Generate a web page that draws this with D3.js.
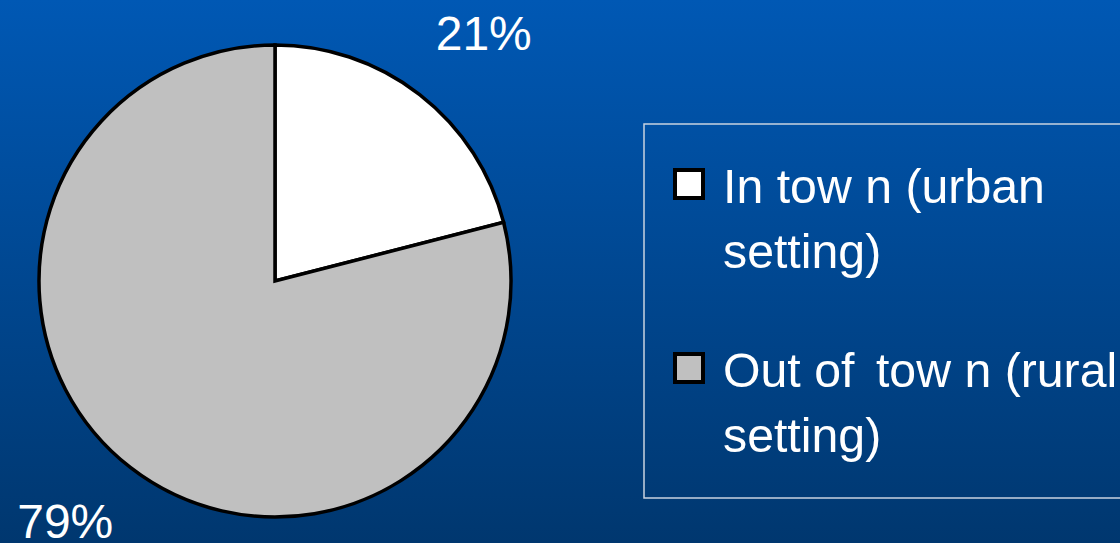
<!DOCTYPE html>
<html>
<head>
<meta charset="utf-8">
<script src="https://cdn.jsdelivr.net/npm/d3@7"></script>
<style>
  html, body { margin: 0; padding: 0; background: #00468f; }
  svg { display: block; }
  text { font-family: "Liberation Sans", Arial, sans-serif; fill: #ffffff; white-space: pre; }
</style>
</head>
<body>
<svg id="chart" width="1120" height="543"></svg>
<script>
// Share of locations by setting
const categories = ["In town (urban setting)", "Out of town (rural setting)"];
const values = [21, 79];
const valueLabels = ["21%", "79%"];
// Legend wording, one array entry per wrapped line
const legendLines = [["In tow n (urban", "setting)"], ["Out of \u200A\u200Atow n (rural", "setting)"]];
const sliceColors = ["#ffffff", "#c0c0c0"];

const W = 1120, H = 543;
const svg = d3.select("#chart");

// Background gradient: bright blue at the top fading to navy at the bottom
const defs = svg.append("defs");
const grad = defs.append("linearGradient")
  .attr("id", "bg").attr("x1", 0).attr("y1", 0).attr("x2", 0).attr("y2", 1);
grad.append("stop").attr("offset", "0%").attr("stop-color", "#0058b4");
grad.append("stop").attr("offset", "100%").attr("stop-color", "#00376f");
svg.append("rect").attr("width", W).attr("height", H).attr("fill", "url(#bg)");

// Pie
const cx = 275, cy = 281, radius = 236;
const pie = d3.pie().sort(null).value(d => d);
const arcs = pie(values);
const arc = d3.arc().innerRadius(0).outerRadius(radius);
const labelArc = d3.arc().innerRadius(321).outerRadius(321);

const g = svg.append("g").attr("transform", `translate(${cx},${cy})`);
g.selectAll("path.slice")
  .data(arcs)
  .join("path")
  .attr("class", "slice")
  .attr("d", arc)
  .attr("fill", (d, i) => sliceColors[i])
  .attr("stroke", "#000")
  .attr("stroke-width", 3.5)
  .attr("stroke-linejoin", "miter");

// Percentage labels outside the slices
const labelNudge = [[12, 5], [-13, -14]];
g.selectAll("text.pct")
  .data(arcs)
  .join("text")
  .attr("class", "pct")
  .attr("x", (d, i) => labelArc.centroid(d)[0] + labelNudge[i][0])
  .attr("y", (d, i) => labelArc.centroid(d)[1] + labelNudge[i][1])
  .attr("text-anchor", "middle")
  .attr("dy", "0.36em")
  .style("font-size", "48px")
  .text((d, i) => valueLabels[i]);

// Legend box
const legend = svg.append("g");
legend.append("rect")
  .attr("x", 644).attr("y", 124)
  .attr("width", 520).attr("height", 374)
  .attr("fill", "none")
  .attr("stroke", "#c8d2e0")
  .attr("stroke-width", 1.5);

const itemY = d3.scalePoint().domain(categories).range([203, 387]);
const item = legend.selectAll("g.item")
  .data(categories)
  .join("g")
  .attr("class", "item")
  .attr("transform", d => `translate(0,${itemY(d)})`);

item.append("rect")
  .attr("x", 675).attr("y", -33)
  .attr("width", 28).attr("height", 28)
  .attr("fill", (d, i) => sliceColors[i])
  .attr("stroke", "#000")
  .attr("stroke-width", 4);

item.append("text")
  .attr("transform", "translate(723,0) scale(0.985,1)")
  .style("font-size", "49px")
  .selectAll("tspan")
  .data((d, i) => legendLines[i])
  .join("tspan")
  .attr("x", 0)
  .attr("y", (d, j) => j * 65)
  .text(d => d);
</script>
</body>
</html>
